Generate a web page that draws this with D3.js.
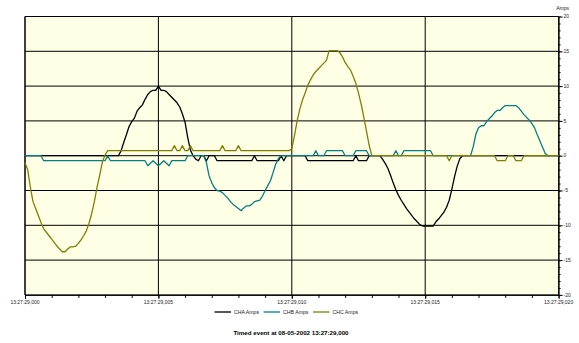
<!DOCTYPE html>
<html>
<head>
<meta charset="utf-8">
<script src="https://cdn.jsdelivr.net/npm/d3@7"></script>
<style>
  html, body { margin: 0; padding: 0; background: #ffffff; }
  svg { display: block; font-family: Arial, "Liberation Sans", sans-serif; }
</style>
</head>
<body>
<svg id="chart" width="579" height="343"></svg>
<script>
// Recorder samples: one value every 0.1 ms, starting at 13:27:29,000
const sampleStepMs = 0.1;

const timeTickValues = [0, 5, 10, 15, 20];
const timeTickLabels = ["13:27:29,000", "13:27:29,005", "13:27:29,010", "13:27:29,015", "13:27:29,020"];
const ampTickValues = [20, 15, 10, 5, 0, -5, -10, -15, -20];
const seriesNames = ["CHA Amps", "CHB Amps", "CHC Amps"];
const titleText = "Timed event at 08-05-2002 13:27:29,000";

// Channel currents (A), one row per millisecond
const chaAmps = [
  0, 0, 0, 0, 0, 0, 0, 0, 0, 0,
  0, 0, 0, 0, 0, 0, 0, 0, 0, 0,
  0, 0, 0, 0, 0, 0, 0, 0, 0, 0,
  0, 0, 0, 0, 0, 0, 0.7, 1.9, 3.0, 4.2,
  4.9, 5.4, 6.4, 6.9, 7.3, 8.1, 8.8, 9.2, 9.4, 9.4,
  10.0, 9.4, 9.4, 9.2, 8.8, 8.4, 8.0, 7.6, 7.0, 6.0,
  4.8, 2.6, 0.8, 0, -0.5, -0.72, 0, 0, -0.72, 0,
  0, 0, -0.72, -0.72, -0.72, -0.72, -0.72, -0.72, -0.72, -0.72,
  -0.72, -0.72, -0.72, -0.72, -0.72, -0.72, 0, -0.72, -0.72, -0.72,
  -0.72, -0.72, -0.72, -0.72, -0.72, -0.72, 0, -0.72, 0, 0,
  0, 0, 0, 0, 0, 0, -0.72, -0.72, -0.72, -0.72,
  -0.72, -0.72, -0.72, -0.72, -0.72, -0.72, -0.72, -0.72, -0.72, -0.72,
  -0.72, -0.72, -0.72, -0.72, 0, -0.72, -0.72, -0.72, -0.72, 0,
  0, 0, 0, 0, -0.5, -1.1, -1.8, -2.8, -3.9, -4.9,
  -5.7, -6.4, -7.0, -7.6, -8.1, -8.6, -9.1, -9.5, -9.9, -10.1,
  -10.1, -10.1, -10.1, -10.1, -9.5, -9.1, -8.6, -8.1, -7.4, -6.4,
  -4.8, -3.0, -1.5, -0.4, 0, 0, 0, 0, 0, 0,
  0, 0, 0, 0, 0, 0, 0, 0, 0, 0,
  0, 0, 0, 0, 0, 0, 0, 0, 0, 0,
  0, 0, 0, 0, 0, 0, 0, 0, 0, 0,
  0
];

const chbAmps = [
  0, 0, 0, 0, 0, 0, 0, -0.72, -0.72, -0.72,
  -0.72, -0.72, -0.72, -0.72, -0.72, -0.72, -0.72, -0.72, -0.72, -0.72,
  -0.72, -0.72, -0.72, -0.72, -0.72, -0.72, -0.72, -0.72, -0.72, -0.72,
  -0.72, 0, -0.72, -0.72, -0.72, -0.72, -0.72, -0.72, -0.72, -0.72,
  -0.72, -0.72, -0.72, -0.72, -0.72, -0.72, -1.44, -1.08, -0.72, -1.08,
  -1.44, -1.08, -0.72, -1.08, -1.44, -0.72, -0.72, -0.72, -0.72, -0.72,
  -0.72, 0, 0, 0, 0, 0, 0, 0, -1.0, -2.9,
  -3.9, -4.6, -5.0, -5.1, -5.3, -5.7, -6.1, -6.6, -7.0, -7.3,
  -7.6, -7.9, -7.5, -7.2, -7.2, -7.0, -6.6, -6.5, -6.4, -5.8,
  -5.0, -4.3, -3.6, -2.4, -1.2, -0.4, 0, 0, 0, 0,
  0, 0, 0, 0, 0, 0, 0, 0, 0, 0.72,
  0, 0, 0, 0.72, 0.72, 0.72, 0.72, 0.72, 0.72, 0.72,
  0, 0, 0, 0, 0.72, 0.72, 0.72, 0.72, 0.72, 0,
  0, 0, 0, 0, 0, 0, 0, 0, 0, 0.72,
  0, 0, 0.72, 0.72, 0.72, 0.72, 0.72, 0.72, 0.72, 0.72,
  0.72, 0.72, 0.72, 0, 0, 0, 0, 0, 0, 0,
  0, 0, 0, 0, 0, 0, 0, 0, 1.3, 3.1,
  4.0, 4.3, 4.3, 4.9, 5.3, 5.7, 6.2, 6.5, 6.5, 6.9,
  7.2, 7.2, 7.2, 7.2, 7.2, 6.9, 6.4, 5.9, 5.5, 5.1,
  4.6, 4.0, 3.0, 2.1, 1.2, 0.3, 0, 0, 0, 0,
  0
];

const chcAmps = [
  -1.0, -2.0, -4.5, -6.6, -7.6, -8.6, -9.6, -10.5, -11.0, -11.5,
  -12.0, -12.5, -13.0, -13.4, -13.8, -13.8, -13.4, -13.1, -13.1, -13.0,
  -12.6, -12.1, -11.5, -10.8, -9.7, -8.3, -6.6, -4.5, -2.8, -0.9,
  0.1, 0.72, 0.72, 0.72, 0.72, 0.72, 0.72, 0.72, 0.72, 0.72,
  0.72, 0.72, 0.72, 0.72, 0.72, 0.72, 0.72, 0.72, 0.72, 0.72,
  0.72, 0.72, 0.72, 0.72, 0.72, 0.72, 1.44, 0.72, 0.72, 1.44,
  0.72, 0.72, 1.44, 0.72, 0.72, 0.72, 0.72, 0.72, 0.72, 0.72,
  0.72, 0.72, 0.72, 0.72, 1.44, 0.72, 0.72, 0.72, 0.72, 0.72,
  1.44, 0.72, 0.72, 0.72, 0.72, 0.72, 0.72, 0.72, 0.72, 0.72,
  0.72, 0.72, 0.72, 0.72, 0.72, 0.72, 0.72, 0.72, 0.72, 0.72,
  1.0, 2.9, 5.0, 6.7, 8.0, 9.0, 10.1, 10.9, 11.6, 12.1,
  12.5, 12.9, 13.3, 13.7, 15.1, 15.1, 15.1, 15.1, 14.8, 14.2,
  13.4, 12.8, 12.3, 11.4, 10.4, 9.0, 7.4, 5.5, 3.5, 1.5,
  0, 0, 0, 0, 0, 0, 0, 0, 0, 0,
  0, 0, 0, 0, 0, 0, 0, 0, 0, 0,
  0, 0, 0, 0, 0, 0, 0, 0, 0, -0.72,
  0, 0, 0, 0, 0, 0, 0, 0, 0, 0,
  0, 0, 0, 0, 0, 0, 0, -0.72, -0.72, -0.72,
  -0.72, 0, 0, 0, -0.72, -0.72, -0.72, 0, 0, 0,
  0, 0, 0, 0, 0, 0, 0, 0, 0, 0,
  0
];

const seriesColors = ["#000000", "#008080", "#808000"];

const plot = { left: 25, right: 558.6, top: 16.5, bottom: 294.9 };
const textColor = "#222";

const x = d3.scaleLinear().domain([0, 20]).range([plot.left, plot.right]);
const y = d3.scaleLinear().domain([-20, 20]).range([plot.bottom, plot.top]);

const svg = d3.select("#chart");

// plot background
svg.append("rect")
  .attr("x", plot.left).attr("y", plot.top)
  .attr("width", plot.right - plot.left).attr("height", plot.bottom - plot.top)
  .attr("fill", "#ffffe6");

// horizontal gridlines every 5 A
svg.append("g").selectAll("line").data(ampTickValues).join("line")
  .attr("x1", plot.left).attr("x2", plot.right)
  .attr("y1", d => y(d)).attr("y2", d => y(d))
  .attr("stroke", "#000").attr("stroke-width", 1);

// vertical gridlines every 5 ms
svg.append("g").selectAll("line").data(timeTickValues).join("line")
  .attr("x1", d => x(d)).attr("x2", d => x(d))
  .attr("y1", plot.top).attr("y2", plot.bottom)
  .attr("stroke", "#000").attr("stroke-width", 1);

// bottom axis: minor ticks every 1 ms, longer ticks at labels
const bottomMinor = d3.axisBottom(x).tickValues(d3.range(0, 21, 1)).tickSize(3).tickSizeOuter(0).tickFormat("");
svg.append("g").attr("transform", `translate(0,${plot.bottom})`).call(bottomMinor)
  .call(g => g.select(".domain").attr("stroke", "#000"))
  .call(g => g.selectAll(".tick line").attr("stroke", "#000"));
const bottomMajor = d3.axisBottom(x).tickValues(timeTickValues).tickSize(4).tickSizeOuter(0).tickFormat("");
svg.append("g").attr("transform", `translate(0,${plot.bottom})`).call(bottomMajor)
  .call(g => g.select(".domain").remove())
  .call(g => g.selectAll(".tick line").attr("stroke", "#000"));

svg.append("g").selectAll("text").data(timeTickValues).join("text")
  .attr("x", d => x(d)).attr("y", 303.5)
  .attr("text-anchor", "middle")
  .attr("font-size", 5).attr("fill", textColor)
  .text((d, i) => timeTickLabels[i]);

// right value axis: minor ticks every 1 A, major ticks every 5 A
const rightMinor = d3.axisRight(y).tickValues(d3.range(-20, 21, 1)).tickSize(2).tickSizeOuter(0).tickFormat("");
svg.append("g").attr("transform", `translate(${plot.right},0)`).call(rightMinor)
  .call(g => g.select(".domain").attr("stroke", "#000"))
  .call(g => g.selectAll(".tick line").attr("stroke", "#000"));
const rightMajor = d3.axisRight(y).tickValues(ampTickValues).tickSize(4).tickSizeOuter(0).tickFormat("");
svg.append("g").attr("transform", `translate(${plot.right},0)`).call(rightMajor)
  .call(g => g.select(".domain").remove())
  .call(g => g.selectAll(".tick line").attr("stroke", "#000"));

svg.append("g").selectAll("text").data(ampTickValues).join("text")
  .attr("x", plot.right + 5).attr("y", d => y(d))
  .attr("dy", "0.35em")
  .attr("font-size", 5).attr("fill", textColor)
  .text(d => d);

svg.append("text")
  .attr("x", plot.right + 4).attr("y", 10)
  .attr("text-anchor", "middle")
  .attr("font-size", 5).attr("fill", textColor)
  .text("Amps");

// left border
svg.append("line")
  .attr("x1", plot.left).attr("x2", plot.left)
  .attr("y1", plot.top).attr("y2", plot.bottom)
  .attr("stroke", "#000").attr("stroke-width", 1);

// channel traces, CHA first so CHB and CHC sit on top
const seriesValues = [chaAmps, chbAmps, chcAmps];
const line = d3.line()
  .x((d, i) => x(i * sampleStepMs))
  .y(d => y(d));

svg.append("g").selectAll("path").data(seriesValues).join("path")
  .attr("d", d => line(d))
  .attr("fill", "none")
  .attr("stroke", (d, i) => seriesColors[i])
  .attr("stroke-width", 1.3)
  .attr("stroke-linejoin", "round");

// legend
const legend = svg.append("g");
let lx = 214.5;
const ly = 312;
seriesNames.forEach((name, i) => {
  legend.append("line")
    .attr("x1", lx).attr("x2", lx + 16.5)
    .attr("y1", ly).attr("y2", ly)
    .attr("stroke", seriesColors[i]).attr("stroke-width", 1.3);
  const t = legend.append("text")
    .attr("x", lx + 19.5).attr("y", ly)
    .attr("dy", "0.35em")
    .attr("font-size", 5.2).attr("fill", textColor)
    .text(name);
  lx += 19.5 + t.node().getComputedTextLength() + 4.5;
});

// title
svg.append("text")
  .attr("x", 291).attr("y", 334.5)
  .attr("text-anchor", "middle")
  .attr("font-size", 6.2).attr("font-weight", "bold").attr("fill", "#000")
  .text(titleText);
</script>
</body>
</html>
